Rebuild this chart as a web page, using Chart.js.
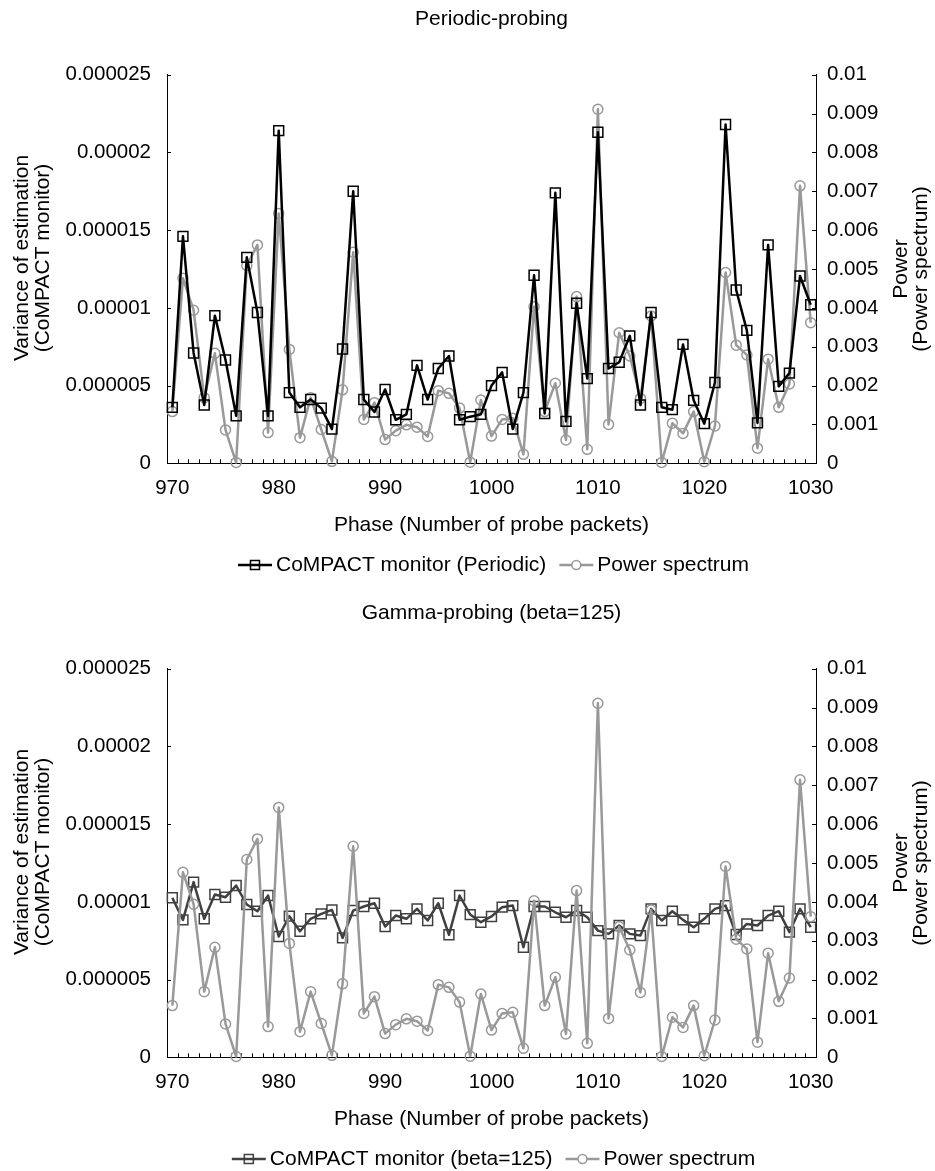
<!DOCTYPE html>
<html>
<head>
<meta charset="utf-8">
<script src="https://cdn.jsdelivr.net/npm/chart.js@4.4.1/dist/chart.umd.min.js"></script>
<style>
  html, body { margin: 0; padding: 0; background: #fff; overflow: hidden; }
  .panel { position: absolute; left: 0; width: 935px; height: 594px; }
</style>
</head>
<body>
<div class="panel" style="top:0"><canvas id="periodic" width="935" height="594"></canvas></div>
<div class="panel" style="top:594px"><canvas id="gamma" width="935" height="594"></canvas></div>
<script>
// Phase (number of probe packets)
const categories = [
    970, 971, 972, 973, 974, 975, 976, 977, 978, 979,
    980, 981, 982, 983, 984, 985, 986, 987, 988, 989,
    990, 991, 992, 993, 994, 995, 996, 997, 998, 999,
    1000, 1001, 1002, 1003, 1004, 1005, 1006, 1007, 1008, 1009,
    1010, 1011, 1012, 1013, 1014, 1015, 1016, 1017, 1018, 1019,
    1020, 1021, 1022, 1023, 1024, 1025, 1026, 1027, 1028, 1029,
    1030
];

// Variance of estimation, periodic probing
const compactPeriodic = [
    3.6e-6, 14.6e-6, 7.1e-6, 3.75e-6, 9.5e-6, 6.65e-6, 3.05e-6, 13.25e-6, 9.7e-6, 3.05e-6,
    21.4e-6, 4.55e-6, 3.6e-6, 4.1e-6, 3.55e-6, 2.2e-6, 7.35e-6, 17.5e-6, 4.1e-6, 3.3e-6,
    4.75e-6, 2.8e-6, 3.15e-6, 6.3e-6, 4.1e-6, 6.1e-6, 6.9e-6, 2.8e-6, 3.0e-6, 3.15e-6,
    5.0e-6, 5.85e-6, 2.2e-6, 4.55e-6, 12.1e-6, 3.2e-6, 17.4e-6, 2.7e-6, 10.3e-6, 5.45e-6,
    21.3e-6, 6.1e-6, 6.5e-6, 8.2e-6, 3.75e-6, 9.7e-6, 3.6e-6, 3.45e-6, 7.65e-6, 4.05e-6,
    2.55e-6, 5.2e-6, 21.8e-6, 11.15e-6, 8.55e-6, 2.6e-6, 14.05e-6, 4.95e-6, 5.8e-6, 12.05e-6,
    10.2e-6
];

// Variance of estimation, gamma probing (beta=125)
const compactGamma = [
    10.26e-6, 8.84e-6, 11.27e-6, 8.91e-6, 10.47e-6, 10.3e-6, 11.05e-6, 9.83e-6, 9.4e-6, 10.41e-6,
    7.77e-6, 9.08e-6, 8.11e-6, 8.91e-6, 9.23e-6, 9.48e-6, 7.68e-6, 9.44e-6, 9.7e-6, 9.91e-6,
    8.41e-6, 9.12e-6, 8.91e-6, 9.55e-6, 8.8e-6, 9.91e-6, 7.88e-6, 10.41e-6, 9.18e-6, 8.69e-6,
    9.06e-6, 9.66e-6, 9.76e-6, 7.08e-6, 9.7e-6, 9.7e-6, 9.33e-6, 9.01e-6, 9.44e-6, 9.01e-6,
    8.15e-6, 7.94e-6, 8.48e-6, 7.94e-6, 7.83e-6, 9.55e-6, 8.8e-6, 9.4e-6, 8.84e-6, 8.37e-6,
    8.91e-6, 9.55e-6, 9.76e-6, 7.9e-6, 8.58e-6, 8.48e-6, 9.12e-6, 9.4e-6, 8.05e-6, 9.55e-6,
    8.37e-6
];

// Power spectrum (same in both panels)
const powerSpectrum = [
    1.33e-3, 4.76e-3, 3.94e-3, 1.69e-3, 2.83e-3, 0.86e-3, 0.02e-3, 5.09e-3, 5.62e-3, 0.79e-3,
    6.43e-3, 2.93e-3, 0.66e-3, 1.69e-3, 0.87e-3, 0.05e-3, 1.89e-3, 5.43e-3, 1.13e-3, 1.56e-3,
    0.61e-3, 0.84e-3, 0.99e-3, 0.93e-3, 0.69e-3, 1.87e-3, 1.8e-3, 1.42e-3, 0.03e-3, 1.63e-3,
    0.7e-3, 1.13e-3, 1.16e-3, 0.23e-3, 4.03e-3, 1.33e-3, 2.06e-3, 0.6e-3, 4.29e-3, 0.36e-3,
    9.11e-3, 1.0e-3, 3.36e-3, 2.76e-3, 1.67e-3, 3.79e-3, 0.02e-3, 1.03e-3, 0.77e-3, 1.33e-3,
    0.04e-3, 0.96e-3, 4.91e-3, 3.04e-3, 2.79e-3, 0.39e-3, 2.68e-3, 1.44e-3, 2.04e-3, 7.14e-3,
    3.62e-3
];

const leftTickValues = [0, 5e-6, 10e-6, 15e-6, 20e-6, 25e-6];
const leftTickLabels = ['0', '0.000005', '0.00001', '0.000015', '0.00002', '0.000025'];
const rightTickValues = [0, 0.001, 0.002, 0.003, 0.004, 0.005, 0.006, 0.007, 0.008, 0.009, 0.01];
const rightTickLabels = ['0', '0.001', '0.002', '0.003', '0.004', '0.005', '0.006', '0.007', '0.008', '0.009', '0.01'];

const GRAY = '#999999';
const FONT = "'Liberation Sans', Arial, Helvetica, sans-serif";

Chart.defaults.font.family = FONT;
Chart.defaults.font.size = 20.5;
Chart.defaults.color = '#000';

function drawGlyph(ctx, x, y, color, style) {
    ctx.strokeStyle = color;
    ctx.lineWidth = 2.5;
    ctx.beginPath();
    ctx.moveTo(x, y);
    ctx.lineTo(x + 34, y);
    ctx.stroke();
    ctx.lineWidth = 1.5;
    ctx.beginPath();
    if (style === 'rect') {
        ctx.rect(x + 17 - 4.5, y - 4.5, 9, 9);
    } else {
        ctx.arc(x + 17, y, 4.5, 0, Math.PI * 2);
    }
    ctx.fillStyle = '#fff';
    if (style !== 'rect') ctx.fill();
    ctx.stroke();
}

// Inward tick marks, panel title, y-axis titles and legend
const decor = {
    id: 'decor',
    beforeDatasetsDraw(chart, args, opts) {
        const { ctx, chartArea: a, scales } = chart;
        const x = scales.x, yL = scales.yL, yR = scales.yR;
        ctx.save();
        ctx.strokeStyle = '#000';
        ctx.lineWidth = 1;
        ctx.beginPath();
        const step = x.getPixelForValue(1) - x.getPixelForValue(0);
        for (let i = 0; i <= categories.length; i++) {
            const px = Math.round(x.getPixelForValue(i) - step / 2) + 0.5;
            ctx.moveTo(px, a.bottom);
            ctx.lineTo(px, a.bottom - 4);
        }
        yL.ticks.forEach(t => {
            const py = Math.round(yL.getPixelForValue(t.value)) + 0.5;
            ctx.moveTo(a.left, py);
            ctx.lineTo(a.left + 4, py);
        });
        yR.ticks.forEach(t => {
            const py = Math.round(yR.getPixelForValue(t.value)) + 0.5;
            ctx.moveTo(a.right, py);
            ctx.lineTo(a.right - 4, py);
        });
        ctx.stroke();
        ctx.restore();
    },
    afterDraw(chart, args, opts) {
        const { ctx, chartArea: a } = chart;
        const cx = (a.left + a.right) / 2;
        const cy = (a.top + a.bottom) / 2;
        ctx.save();
        ctx.fillStyle = '#000';
        ctx.font = '21px ' + FONT;
        ctx.textAlign = 'center';
        ctx.textBaseline = 'middle';

        // panel title
        ctx.fillText(opts.title, cx, 19);

        // y-axis titles
        const rotText = (lines, xs, y) => {
            lines.forEach((line, i) => {
                ctx.save();
                ctx.translate(xs[i], y);
                ctx.rotate(-Math.PI / 2);
                ctx.fillText(line, 0, 0);
                ctx.restore();
            });
        };
        rotText(['Variance of estimation', '(CoMPACT monitor)'], [22, 43], cy - 11);
        rotText(['Power', '(Power spectrum)'], [901, 921], cy);

        // legend
        const items = opts.legend;
        const widths = items.map(it => ctx.measureText(it.text).width);
        let total = 0;
        widths.forEach((w, i) => { total += 34 + 4 + w + (i > 0 ? 13 : 0); });
        let lx = cx + 2 - total / 2;
        const ly = 565;
        ctx.textAlign = 'left';
        items.forEach((it, i) => {
            drawGlyph(ctx, lx, ly, it.color, it.style);
            ctx.fillStyle = '#000';
            ctx.fillText(it.text, lx + 38, ly);
            lx += 34 + 4 + widths[i] + 13;
        });
        ctx.restore();
    }
};

function makeChart(id, title, compactData, compactLabel, compactColor, compactOnTop) {
    const ctx = document.getElementById(id).getContext('2d');
    return new Chart(ctx, {
        type: 'line',
        data: {
            labels: categories,
            datasets: [
                {
                    label: compactLabel,
                    data: compactData,
                    yAxisID: 'yL',
                    borderColor: compactColor,
                    borderWidth: 2.5,
                    borderJoinStyle: 'round',
                    pointStyle: 'rect',
                    pointRadius: 7,
                    pointBorderWidth: 1.5,
                    pointBorderColor: compactColor,
                    pointBackgroundColor: 'rgba(0,0,0,0)',
                    order: compactOnTop ? 0 : 1,
                    clip: false
                },
                {
                    label: 'Power spectrum',
                    data: powerSpectrum,
                    yAxisID: 'yR',
                    borderColor: GRAY,
                    borderWidth: 2.5,
                    borderJoinStyle: 'round',
                    pointStyle: 'circle',
                    pointRadius: 5,
                    pointBorderWidth: 1.5,
                    pointBorderColor: GRAY,
                    pointBackgroundColor: 'rgba(0,0,0,0)',
                    order: compactOnTop ? 1 : 0,
                    clip: false
                }
            ]
        },
        options: {
            responsive: false,
            animation: false,
            events: [],
            layout: { padding: { top: 74.7, bottom: 55.7, left: 0, right: 0 } },
            scales: {
                x: {
                    type: 'category',
                    offset: true,
                    grid: { display: false, drawTicks: false, offset: true },
                    border: { display: true, color: '#000', width: 1 },
                    ticks: {
                        autoSkip: false,
                        maxRotation: 0,
                        padding: 13,
                        callback: (v, i) => (categories[i] % 10 === 0 ? String(categories[i]) : '')
                    },
                    title: {
                        display: true,
                        text: 'Phase (Number of probe packets)',
                        font: { size: 21 },
                        padding: { top: 0, bottom: 0 }
                    },
                    afterFit: s => { s.height = 75; }
                },
                yL: {
                    type: 'linear',
                    position: 'left',
                    min: 0,
                    max: 25e-6,
                    grid: { display: false, drawTicks: false },
                    border: { display: true, color: '#000', width: 1 },
                    afterBuildTicks: s => { s.ticks = leftTickValues.map(v => ({ value: v })); },
                    ticks: { padding: 16, callback: (v, i) => leftTickLabels[i] },
                    afterFit: s => { s.width = 167; }
                },
                yR: {
                    type: 'linear',
                    position: 'right',
                    min: 0,
                    max: 0.01,
                    grid: { display: false, drawTicks: false },
                    border: { display: true, color: '#000', width: 1 },
                    afterBuildTicks: s => { s.ticks = rightTickValues.map(v => ({ value: v })); },
                    ticks: { padding: 11, callback: (v, i) => rightTickLabels[i] },
                    afterFit: s => { s.width = 119; }
                }
            },
            plugins: {
                legend: { display: false },
                tooltip: { enabled: false },
                decor: {
                    title: title,
                    legend: [
                        { text: compactLabel, color: compactColor, style: 'rect' },
                        { text: 'Power spectrum', color: GRAY, style: 'circle' }
                    ]
                }
            }
        },
        plugins: [decor]
    });
}

makeChart('periodic', 'Periodic-probing', compactPeriodic, 'CoMPACT monitor (Periodic)', '#000000', true);
makeChart('gamma', 'Gamma-probing (beta=125)', compactGamma, 'CoMPACT monitor (beta=125)', '#404040', false);
</script>
</body>
</html>
